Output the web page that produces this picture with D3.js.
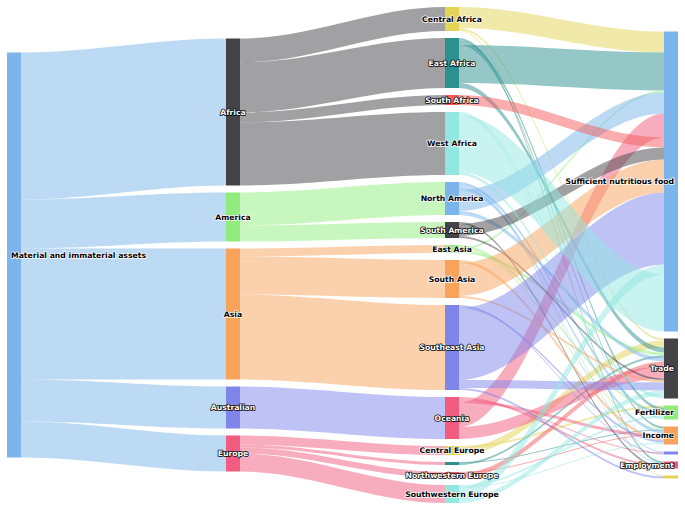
<!DOCTYPE html>
<html><head><meta charset="utf-8">
<script src="https://cdn.jsdelivr.net/npm/d3@7"></script>
<style>html,body{margin:0;padding:0;background:#fff;} svg{display:block;}</style>
</head><body>
<svg id="chart" width="685" height="508"></svg>
<script>
// ---------- data ----------
const sourceNode = ["Material and immaterial assets"];
const continents = ["Africa", "America", "Asia", "Australian", "Europe"];
const continentValues = [147, 49, 131, 42, 36];
const regions = ["Central Africa", "East Africa", "South Africa", "West Africa", "North America", "South America",
  "East Asia", "South Asia", "Southeast Asia", "Oceania", "Central Europe", "Eastern Europe",
  "Northwestern Europe", "Southwestern Europe"];
const regionContinent = ["Africa", "Africa", "Africa", "Africa", "America", "America", "Asia", "Asia", "Asia",
  "Australian", "Europe", "Europe", "Europe", "Europe"];
const regionValues = [24, 50, 10, 63, 33, 16, 8, 38, 85, 42, 9, 3, 6, 18];
const outcomes = ["Sufficient nutritious food", "Trade", "Fertilizer", "Income", "Health", "Employment", "Water"];
const outcomeFlows = [
  ["Central Africa", "Sufficient nutritious food", 21],
  ["Central Africa", "Trade", 2],
  ["Central Africa", "Water", 1],
  ["Central Europe", "Fertilizer", 2],
  ["Central Europe", "Trade", 7],
  ["East Africa", "Employment", 2],
  ["East Africa", "Fertilizer", 3],
  ["East Africa", "Income", 2],
  ["East Africa", "Sufficient nutritious food", 38],
  ["East Africa", "Trade", 5],
  ["East Asia", "Fertilizer", 2],
  ["East Asia", "Income", 1],
  ["East Asia", "Sufficient nutritious food", 2],
  ["East Asia", "Trade", 3],
  ["Eastern Europe", "Income", 1],
  ["Eastern Europe", "Trade", 2],
  ["North America", "Employment", 1],
  ["North America", "Fertilizer", 3],
  ["North America", "Health", 1],
  ["North America", "Income", 3],
  ["North America", "Sufficient nutritious food", 21],
  ["North America", "Trade", 4],
  ["Northwestern Europe", "Income", 1],
  ["Northwestern Europe", "Trade", 5],
  ["Oceania", "Employment", 2],
  ["Oceania", "Health", 1],
  ["Oceania", "Income", 3],
  ["Oceania", "Sufficient nutritious food", 24],
  ["Oceania", "Trade", 12],
  ["South Africa", "Sufficient nutritious food", 10],
  ["South America", "Employment", 2],
  ["South America", "Sufficient nutritious food", 12],
  ["South America", "Trade", 2],
  ["South Asia", "Income", 3],
  ["South Asia", "Sufficient nutritious food", 33],
  ["South Asia", "Trade", 2],
  ["Southeast Asia", "Health", 1],
  ["Southeast Asia", "Income", 2],
  ["Southeast Asia", "Sufficient nutritious food", 72],
  ["Southeast Asia", "Trade", 8],
  ["Southeast Asia", "Water", 2],
  ["Southwestern Europe", "Fertilizer", 2],
  ["Southwestern Europe", "Income", 1],
  ["Southwestern Europe", "Sufficient nutritious food", 10],
  ["Southwestern Europe", "Trade", 5],
  ["West Africa", "Fertilizer", 2],
  ["West Africa", "Income", 1],
  ["West Africa", "Sufficient nutritious food", 57],
  ["West Africa", "Trade", 3]
];
const palette = ["#7cb5ec", "#434348", "#90ed7d", "#f7a35c", "#8085e9", "#f15c80", "#e4d354", "#2b908f", "#f45b5b", "#91e8e1"];

// ---------- layout ----------
const plotLeft = 7, plotTop = 7, plotRight = 678, plotBottom = 503;
const plotH = plotBottom - plotTop;
const nodeW = 14, pad = 7, curveFactor = 0.33;

const levels = [sourceNode, continents, regions, outcomes];
const nodes = [];
const byName = new Map();
levels.forEach((lvl, c) => lvl.forEach(name => {
  const n = {name, col: c, index: nodes.length, linksFrom: [], linksTo: []};
  nodes.push(n); byName.set(name, n);
}));

const links = []
  .concat(continents.map((c, i) => ({source: sourceNode[0], target: c, value: continentValues[i]})))
  .concat(regions.map((r, i) => ({source: regionContinent[i], target: r, value: regionValues[i]})))
  .concat(outcomeFlows.map(([s, t, v]) => ({source: s, target: t, value: v})));
links.forEach(l => {
  l.from = byName.get(l.source); l.to = byName.get(l.target);
  l.from.linksFrom.push(l); l.to.linksTo.push(l);
});
nodes.forEach(n => {
  n.value = Math.max(d3.sum(n.linksFrom, l => l.value), d3.sum(n.linksTo, l => l.value));
});

const color = d3.scaleOrdinal().domain(d3.range(nodes.length)).range(palette);
const columns = d3.groups(nodes, d => d.col).map(g => g[1]);
const factor = d3.min(columns, col => (plotH - (col.length - 1) * pad) / d3.sum(col, d => d.value));
const hScale = d3.scaleLinear().domain([0, 1]).range([0, factor]);
const xScale = d3.scaleLinear().domain([0, levels.length - 1]).range([plotLeft, plotRight - nodeW]);

columns.forEach(col => {
  const total = d3.sum(col, d => hScale(d.value)) + (col.length - 1) * pad;
  let y = plotTop + (plotH - total) / 2;
  col.forEach(n => {
    n.x0 = xScale(n.col); n.x1 = n.x0 + nodeW;
    n.y0 = y; n.y1 = y + hScale(n.value);
    y = n.y1 + pad;
  });
});
nodes.forEach(n => {
  let off = 0;
  n.linksFrom.forEach(l => { l.sy = n.y0 + off; off += hScale(l.value); });
  off = 0;
  n.linksTo.forEach(l => { l.ty = n.y0 + off; off += hScale(l.value); });
});

// ---------- draw ----------
const svg = d3.select("#chart");
svg.append("rect").attr("width", 685).attr("height", 508).attr("fill", "#fff");

function linkPath(l) {
  const x0 = l.from.x1, x1 = l.to.x0, h = hScale(l.value);
  const curvy = (xScale(1) - xScale(0)) * curveFactor;
  return `M${x0},${l.sy}C${x0 + curvy},${l.sy} ${x1 - curvy},${l.ty} ${x1},${l.ty}` +
    `L${x1},${l.ty + h}C${x1 - curvy},${l.ty + h} ${x0 + curvy},${l.sy + h} ${x0},${l.sy + h}Z`;
}

svg.append("g").selectAll("path").data(links).join("path")
  .attr("d", linkPath)
  .attr("fill", l => color(l.from.index))
  .attr("fill-opacity", 0.5);

svg.append("g").selectAll("rect").data(nodes).join("rect")
  .attr("x", d => d.x0).attr("y", d => d.y0)
  .attr("width", nodeW).attr("height", d => Math.max(0.5, d.y1 - d.y0))
  .attr("fill", d => color(d.index));

function isDark(c) {
  const r = d3.rgb(c);
  return 0.299 * r.r + 0.587 * r.g + 0.114 * r.b < 155;
}

const labelG = svg.append("g")
  .attr("font-family", "'DejaVu Sans', Verdana, sans-serif")
  .attr("font-size", "7.7px").attr("font-weight", "bold");

const labels = labelG.selectAll("text").data(nodes).join("text")
  .text(d => d.name)
  .attr("y", d => (d.y0 + d.y1) / 2)
  .attr("dy", "0.36em")
  .attr("text-anchor", "middle")
  .attr("fill", d => isDark(color(d.index)) ? "#ffffff" : "#000000")
  .attr("stroke", d => isDark(color(d.index)) ? "#000000" : "#ffffff")
  .attr("stroke-width", 1.5)
  .attr("stroke-linejoin", "round")
  .attr("paint-order", "stroke");

labels.each(function (d) {
  const w = this.getComputedTextLength();
  let cx = (d.x0 + d.x1) / 2;
  cx = Math.max(plotLeft + 4 + w / 2, Math.min(plotRight - 4 - w / 2, cx));
  d.lx0 = cx - w / 2; d.lx1 = cx + w / 2;
  const cy = (d.y0 + d.y1) / 2;
  d.ly0 = cy - 8; d.ly1 = cy + 8;
  d3.select(this).attr("x", cx);
});

// hide overlapping labels, larger nodes first
const kept = [];
nodes.slice().sort((a, b) => b.value - a.value).forEach(d => {
  const hit = kept.some(k => !(d.lx1 < k.lx0 || d.lx0 > k.lx1 || d.ly1 <= k.ly0 || d.ly0 >= k.ly1));
  d.hidden = hit;
  if (!hit) kept.push(d);
});
labels.attr("display", d => d.hidden ? "none" : null);
</script>
</body></html>
